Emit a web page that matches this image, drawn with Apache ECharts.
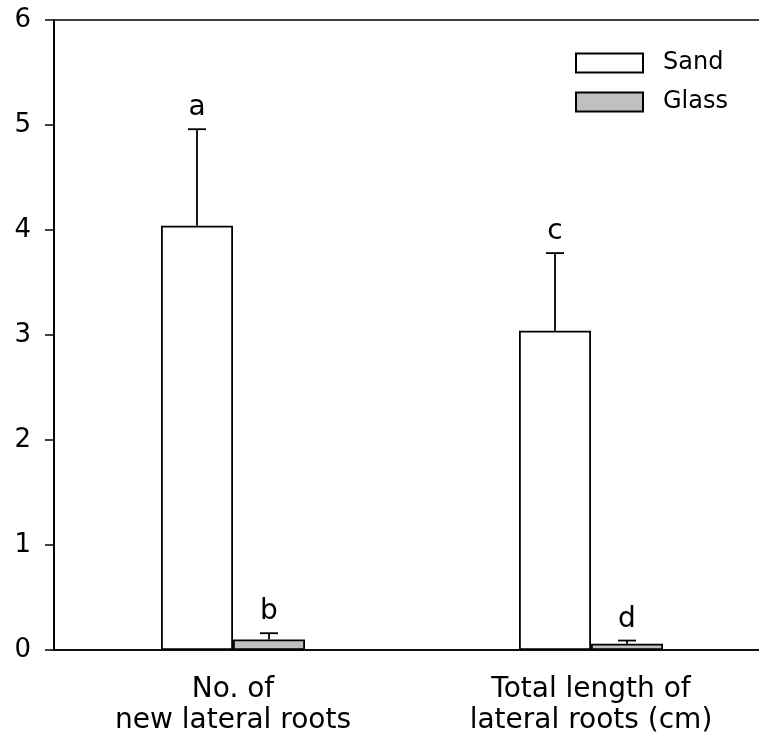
<!DOCTYPE html>
<html>
<head>
<meta charset="utf-8">
<script src="https://cdn.jsdelivr.net/npm/echarts@6/dist/echarts.min.js"></script>
<style>
html,body{margin:0;padding:0;background:#fff;}
#chart{width:759px;height:749px;}
</style>
</head>
<body>
<div id="chart"></div>
<script>
var categories = ['No. of\nnew lateral roots', 'Total length of\nlateral roots (cm)'];
var sandValues = [4.04, 3.04];
var sandErrors = [0.92, 0.74];
var glassValues = [0.10, 0.06];
var glassErrors = [0.06, 0.03];
var sandLetters = ['a', 'c'];
var glassLetters = ['b', 'd'];
var yTicks = [0, 1, 2, 3, 4, 5, 6];

var FONT = "'DejaVu Sans', 'Liberation Sans', Arial, sans-serif";
var BAR_W = 72;

function errorSeries(name, values, errors, letters, side) {
  return {
    type: 'custom',
    name: name + ' err',
    z: 5,
    silent: true,
    data: values.map(function (v, i) { return [i, v, v + errors[i]]; }),
    renderItem: function (params, api) {
      var base = api.coord([api.value(0), api.value(1)]);
      var top = api.coord([api.value(0), api.value(2)]);
      var x = base[0] + side * BAR_W / 2;
      var cap = 9;
      var style = { stroke: '#000', lineWidth: 1.8 };
      return {
        type: 'group',
        children: [
          { type: 'line', shape: { x1: x, y1: base[1], x2: x, y2: top[1] }, style: style },
          { type: 'line', shape: { x1: x - cap, y1: top[1], x2: x + cap, y2: top[1] }, style: style },
          { type: 'text', x: x, y: top[1] - 21,
            style: { text: letters[params.dataIndex], fill: '#000', fontSize: 28, fontFamily: FONT,
                     align: 'center', verticalAlign: 'middle' } }
        ]
      };
    }
  };
}

var chart = echarts.init(document.getElementById('chart'));
chart.setOption({
  animation: false,
  backgroundColor: '#fff',
  textStyle: { fontFamily: FONT },
  grid: { left: 54, top: 20, width: 716, height: 630, outerBoundsMode: 'none', containLabel: false,
          show: true, borderColor: '#000', borderWidth: 1.5, backgroundColor: 'transparent' },
  legend: {
    data: ['Sand', 'Glass'],
    orient: 'vertical',
    left: 570, top: 46,
    itemWidth: 67, itemHeight: 19, itemGap: 15,
    icon: 'rect',
    textStyle: { fontSize: 24, color: '#000', fontFamily: FONT, padding: [0, 0, 0, 15] },
    selectedMode: false
  },
  xAxis: {
    type: 'category',
    data: categories,
    axisLine: { lineStyle: { color: '#000', width: 1.5 } },
    axisTick: { show: false },
    axisLabel: { color: '#000', fontSize: 28, lineHeight: 31, margin: 24, fontFamily: FONT, interval: 0 },
    splitLine: { show: false }
  },
  yAxis: {
    type: 'value',
    min: 0, max: 6, interval: 1,
    axisLine: { show: true, lineStyle: { color: '#000', width: 1.8 } },
    axisTick: { show: true, inside: false, length: 9, lineStyle: { color: '#000', width: 1.5 } },
    axisLabel: { color: '#000', fontSize: 26, margin: 23, fontFamily: FONT,
                 formatter: function (v) { return yTicks.indexOf(v) >= 0 ? String(v) : ''; } },
    splitLine: { show: false }
  },
  series: [
    { name: 'Sand', type: 'bar', data: sandValues, barWidth: BAR_W, barGap: '0%',
      itemStyle: { color: '#ffffff', borderColor: '#000', borderWidth: 1.8 } },
    { name: 'Glass', type: 'bar', data: glassValues, barWidth: BAR_W, barGap: '0%',
      itemStyle: { color: '#c0c0c0', borderColor: '#000', borderWidth: 1.8 } },
    errorSeries('Sand', sandValues, sandErrors, sandLetters, -1),
    errorSeries('Glass', glassValues, glassErrors, glassLetters, 1)
  ]
});
</script>
</body>
</html>
